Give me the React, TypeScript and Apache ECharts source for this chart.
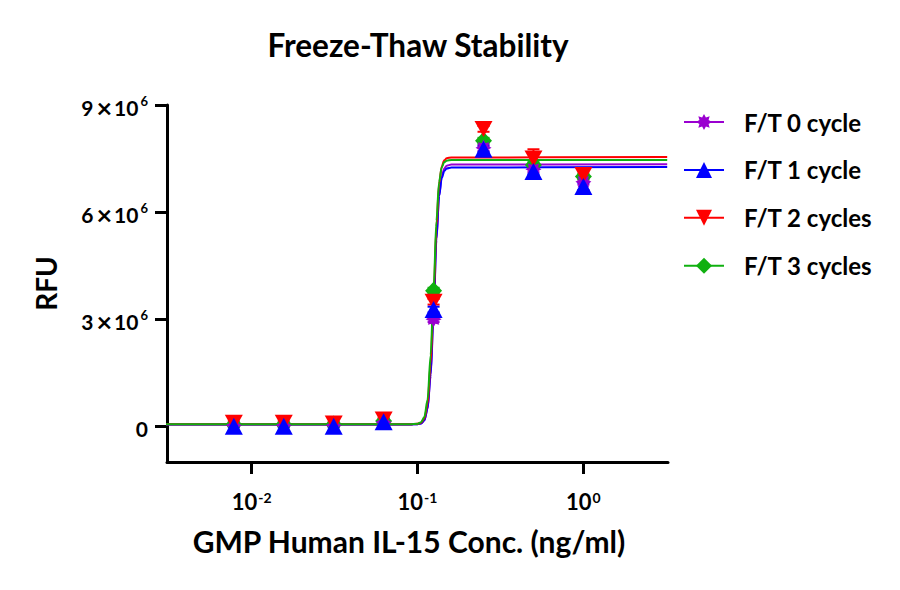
import React, { useEffect, useRef } from 'react';
import * as echarts from 'echarts';

// ---------- data ----------
const concentrations = [0.0078125, 0.015625, 0.03125, 0.0625, 0.125, 0.25, 0.5, 1];
const seriesNames = ['F/T 0 cycle', 'F/T 1 cycle', 'F/T 2 cycles', 'F/T 3 cycles'];

const meanFT0 = [0.03e6, 0.03e6, 0.03e6, 0.12e6, 3.0e6, 7.8e6, 7.2e6, 6.85e6];
const meanFT1 = [0.0e6, 0.0e6, 0.0e6, 0.13e6, 3.27e6, 7.76e6, 7.14e6, 6.72e6];
const meanFT2 = [0.1e6, 0.1e6, 0.08e6, 0.19e6, 3.49e6, 8.33e6, 7.5e6, 7.04e6];
const meanFT3 = [0.05e6, 0.05e6, 0.05e6, 0.15e6, 3.8e6, 8.0e6, 7.32e6, 7.0e6];

const sdFT0 = [0.03e6, 0.03e6, 0.03e6, 0.05e6, 0.08e6, 0.08e6, 0.08e6, 0.08e6];
const sdFT1 = [0.03e6, 0.03e6, 0.03e6, 0.05e6, 0.08e6, 0.08e6, 0.08e6, 0.1e6];
const sdFT2 = [0.04e6, 0.04e6, 0.04e6, 0.05e6, 0.08e6, 0.08e6, 0.26e6, 0.19e6];
const sdFT3 = [0.03e6, 0.03e6, 0.03e6, 0.05e6, 0.08e6, 0.08e6, 0.08e6, 0.08e6];

// fitted curves
const curveConc = [0.003, 0.09, 0.1, 0.105, 0.11, 0.115, 0.12, 0.125, 0.13, 0.135, 0.14, 0.145, 0.15, 0.16, 3.2];
const curveFT0 = [0.05e6, 0.05e6, 0.06e6, 0.08e6, 0.16e6, 0.48e6, 1.4e6, 3.1e6, 5.2e6, 6.45e6, 7.0e6, 7.22e6, 7.3e6, 7.33e6, 7.34e6];
const curveFT1 = [0.05e6, 0.05e6, 0.06e6, 0.08e6, 0.17e6, 0.5e6, 1.45e6, 3.2e6, 5.25e6, 6.45e6, 6.95e6, 7.15e6, 7.22e6, 7.25e6, 7.26e6];
const curveFT2 = [0.06e6, 0.06e6, 0.07e6, 0.1e6, 0.22e6, 0.62e6, 1.75e6, 3.55e6, 5.6e6, 6.8e6, 7.28e6, 7.45e6, 7.51e6, 7.53e6, 7.54e6];
const curveFT3 = [0.06e6, 0.06e6, 0.07e6, 0.11e6, 0.26e6, 0.75e6, 2.0e6, 3.8e6, 5.75e6, 6.85e6, 7.25e6, 7.4e6, 7.44e6, 7.46e6, 7.46e6];

const xTickExponents = [-2, -1, 0];
const yTickValues = [0, 3e6, 6e6, 9e6];

// ---------- styles ----------
const FONT = 'Lato';
const colors = ['#9A00D0', '#0000FF', '#FF0000', '#10B010'];

const starPath =
  'path://' +
  Array.from({ length: 16 }, (_, i) => {
    const a = (i * Math.PI) / 8;
    const r = i % 2 ? 0.62 : 1;
    return (i ? 'L' : 'M') + (r * Math.sin(a)).toFixed(3) + ',' + (-r * Math.cos(a)).toFixed(3);
  }).join('') +
  'Z';

const symbols = [starPath, 'triangle', 'triangle', 'diamond'];
const symbolRotates = [0, 0, 180, 0];
const symbolSizes: any[] = [[16, 16], [18, 17], [18, 16], [17, 18]];

const means = [meanFT0, meanFT1, meanFT2, meanFT3];
const sds = [sdFT0, sdFT1, sdFT2, sdFT3];
const curves = [curveFT0, curveFT1, curveFT2, curveFT3];

// drawing order: green, purple, red, blue (blue on top)
const drawOrder = [3, 0, 2, 1];

export default function App() {
  const ref = useRef<HTMLDivElement>(null);

  useEffect(() => {
    if (!ref.current) return;
    const chart = echarts.init(ref.current, null, { renderer: 'svg' });

    const lineSeries = [0, 1, 2, 3].map((k) => ({
      type: 'line',
      name: seriesNames[k],
      data: curveConc.map((c, i) => [Math.log10(c), curves[k][i]]),
      smooth: 0.3,
      smoothMonotone: 'x',
      showSymbol: false,
      symbol: symbols[k],
      symbolRotate: symbolRotates[k],
      lineStyle: { color: colors[k], width: 2 },
      itemStyle: { color: colors[k] },
      silent: true,
      z: 2,
    }));

    const errSeries = drawOrder.map((k) => ({
      type: 'custom',
      name: seriesNames[k] + ' err',
      data: concentrations.map((c, i) => [Math.log10(c), means[k][i] - sds[k][i], means[k][i] + sds[k][i]]),
      encode: { x: 0, y: [1, 2] },
      renderItem: (params: any, api: any) => {
        const x = api.value(0);
        const lo = api.coord([x, api.value(1)]);
        const hi = api.coord([x, api.value(2)]);
        const w = 6;
        const style = { stroke: colors[k], lineWidth: 2 };
        return {
          type: 'group',
          children: [
            { type: 'line', shape: { x1: lo[0], y1: lo[1], x2: hi[0], y2: hi[1] }, style },
            { type: 'line', shape: { x1: hi[0] - w, y1: hi[1], x2: hi[0] + w, y2: hi[1] }, style },
            { type: 'line', shape: { x1: lo[0] - w, y1: lo[1], x2: lo[0] + w, y2: lo[1] }, style },
          ],
        };
      },
      silent: true,
      z: 3,
    }));

    const scatterSeries = drawOrder.map((k) => ({
      type: 'scatter',
      name: seriesNames[k] + ' pts',
      data: concentrations.map((c, i) => [Math.log10(c), means[k][i]]),
      symbol: symbols[k],
      symbolRotate: symbolRotates[k],
      symbolSize: symbolSizes[k],
      itemStyle: { color: colors[k], opacity: 1 },
      silent: true,
      z: 4,
    }));

    const boldText = (size: number, lh: number) => ({
      fontFamily: FONT,
      fontWeight: 'bold',
      fontSize: size,
      color: '#000',
      lineHeight: lh,
    });

    chart.setOption({
      animation: false,
      graphic: [
        {
          type: 'text',
          x: 418,
          y: 45,
          style: {
            text: 'Freeze-Thaw Stability',
            textAlign: 'center',
            textVerticalAlign: 'middle',
            fontFamily: FONT,
            fontWeight: 'bold',
            fontSize: 31.5,
            fill: '#000',
          },
        },
      ],
      legend: {
        orient: 'vertical',
        left: 678,
        top: 105,
        itemWidth: 40,
        itemHeight: 20,
        itemGap: 23.9,
        selectedMode: false,
        data: seriesNames,
        textStyle: {
          fontFamily: FONT,
          fontWeight: 'bold',
          fontSize: 24,
          color: '#000',
          lineHeight: 20,
          padding: [0, 0, 0, 15],
        },
      },
      grid: { left: 167, top: 105, right: 900 - 668, bottom: 590 - 462, containLabel: false },
      xAxis: {
        type: 'value',
        min: -2.51,
        max: 0.51,
        name: 'GMP Human IL-15 Conc. (ng/ml)',
        nameLocation: 'middle',
        nameGap: 64,
        nameTextStyle: { fontFamily: FONT, fontWeight: 'bold', fontSize: 30, color: '#000', padding: [0, 17, 0, 0] },
        axisLine: { onZero: false, lineStyle: { color: '#000', width: 3 } },
        axisTick: { show: true, length: 12, lineStyle: { color: '#000', width: 3 }, customValues: xTickExponents },
        axisLabel: {
          customValues: xTickExponents,
          margin: 28,
          fontFamily: FONT,
          fontWeight: 'bold',
          fontSize: 22,
          color: '#000',
          lineHeight: 22,
          formatter: (v: number) => '{b|10}{sup|' + v + '}',
          rich: {
            b: boldText(22, 22),
            sup: { ...boldText(14, 14), verticalAlign: 'top', padding: [0, 0, 0, 1] },
          },
        },
        splitLine: { show: false },
      },
      yAxis: {
        type: 'value',
        min: -1e6,
        max: 9e6,
        name: 'RFU',
        nameLocation: 'middle',
        nameGap: 107,
        nameTextStyle: { fontFamily: FONT, fontWeight: 'bold', fontSize: 28, color: '#000' },
        axisLine: { show: true, onZero: false, lineStyle: { color: '#000', width: 3 } },
        axisTick: { show: true, length: 12, lineStyle: { color: '#000', width: 3 }, customValues: yTickValues },
        axisLabel: {
          customValues: yTickValues,
          margin: 19,
          fontFamily: FONT,
          fontWeight: 'bold',
          fontSize: 21,
          color: '#000',
          lineHeight: 21,
          formatter: (v: number) => (v === 0 ? '{b|0}' : '{b|' + v / 1e6 + '}{x|×}{b|10}{sup|6}'),
          rich: {
            b: { ...boldText(21, 21), padding: [4, 0, 0, 0] },
            x: { ...boldText(27, 21), padding: [4, 2, 0, 3] },
            sup: { ...boldText(13, 13), verticalAlign: 'top', padding: [0, 0, 0, 2] },
          },
        },
        splitLine: { show: false },
      },
      series: [...lineSeries, ...errSeries, ...scatterSeries],
    });

    return () => chart.dispose();
  }, []);

  return <div ref={ref} style={{ position: 'absolute', left: 0, top: 0, width: 900, height: 590, background: '#fff' }} />;
}
